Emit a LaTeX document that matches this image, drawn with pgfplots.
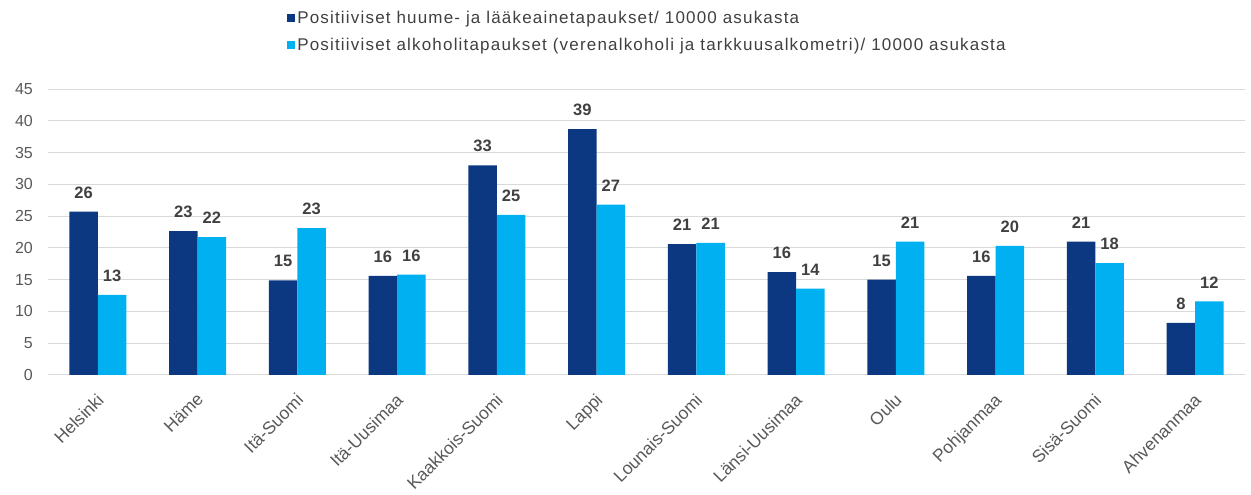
\documentclass[border=0pt]{standalone}
\usepackage{fontspec}
\setmainfont{Liberation Sans}
\newfontfamily\legfont[LetterSpace=7]{Liberation Sans}
\usepackage{pgfplots}
\pgfplotsset{compat=1.18}
\definecolor{darkb}{RGB}{11,56,128}
\definecolor{lightb}{RGB}{0,176,240}
\definecolor{gridc}{RGB}{217,217,217}
\definecolor{tickc}{RGB}{89,89,89}
\definecolor{labc}{RGB}{64,64,64}
\begin{document}
\begin{tikzpicture}
\begin{axis}[
  at={(48pt,120pt)}, anchor=south west,
  scale only axis, width=1197pt, height=286pt,
  ybar=0pt, bar width=28.5pt,
  xmin=-0.5, xmax=11.5, ymin=0, ymax=45,
  enlargelimits=false,
  xtick={0,...,11},
  xticklabels={Helsinki,Häme,Itä-Suomi,Itä-Uusimaa,Kaakkois-Suomi,Lappi,Lounais-Suomi,Länsi-Uusimaa,Oulu,Pohjanmaa,Sisä-Suomi,Ahvenanmaa},
  ytick={0,5,...,45},
  major tick length=0pt,
  axis line style={draw=none},
  ymajorgrids, grid style={gridc, line width=1pt},
  /pgf/number format/assume math mode=true,
  tick label style={font=\fontsize{16}{19}\selectfont, text=tickc, inner sep=0pt},
  yticklabel style={anchor=east, xshift=-15pt},
  xticklabel style={font=\fontsize{17.5}{20}\selectfont, yshift=-17pt, xshift=-2pt, rotate=45, anchor=north east},
  nodes near coords,
  nodes near coords style={font=\bfseries\fontsize{16.5}{19}\selectfont, text=labc, inner sep=0pt, anchor=south, yshift=13pt,
    /pgf/number format/.cd, fixed, precision=0, assume math mode=true},
  legend style={at={(0.1997,1.28)}, anchor=north west, draw=none, fill=none,
    font=\legfont\fontsize{17}{20}\selectfont, text=labc,
    row sep=9pt, inner sep=0pt, legend cell align=left},
  legend image code/.code={\fill[#1] (0pt,-4pt) rectangle (8pt,4pt);},
]
\addplot[fill=darkb, draw=none] coordinates {
(0,25.7) (1,22.65) (2,14.9) (3,15.6) (4,33.0) (5,38.7) (6,20.6) (7,16.2) (8,15.0) (9,15.6) (10,21.0) (11,8.2)};
\addplot[fill=lightb, draw=none] coordinates {
(0,12.6) (1,21.7) (2,23.1) (3,15.8) (4,25.2) (5,26.8) (6,20.8) (7,13.6) (8,21.0) (9,20.3) (10,17.6) (11,11.6)};
\legend{Positiiviset huume- ja lääkeainetapaukset/ 10000 asukasta, Positiiviset alkoholitapaukset (verenalkoholi ja tarkkuusalkometri)/ 10000 asukasta}
\end{axis}
\pgfresetboundingbox
\path[use as bounding box] (0,0) rectangle (1251pt,495pt);
\end{tikzpicture}
\end{document}
